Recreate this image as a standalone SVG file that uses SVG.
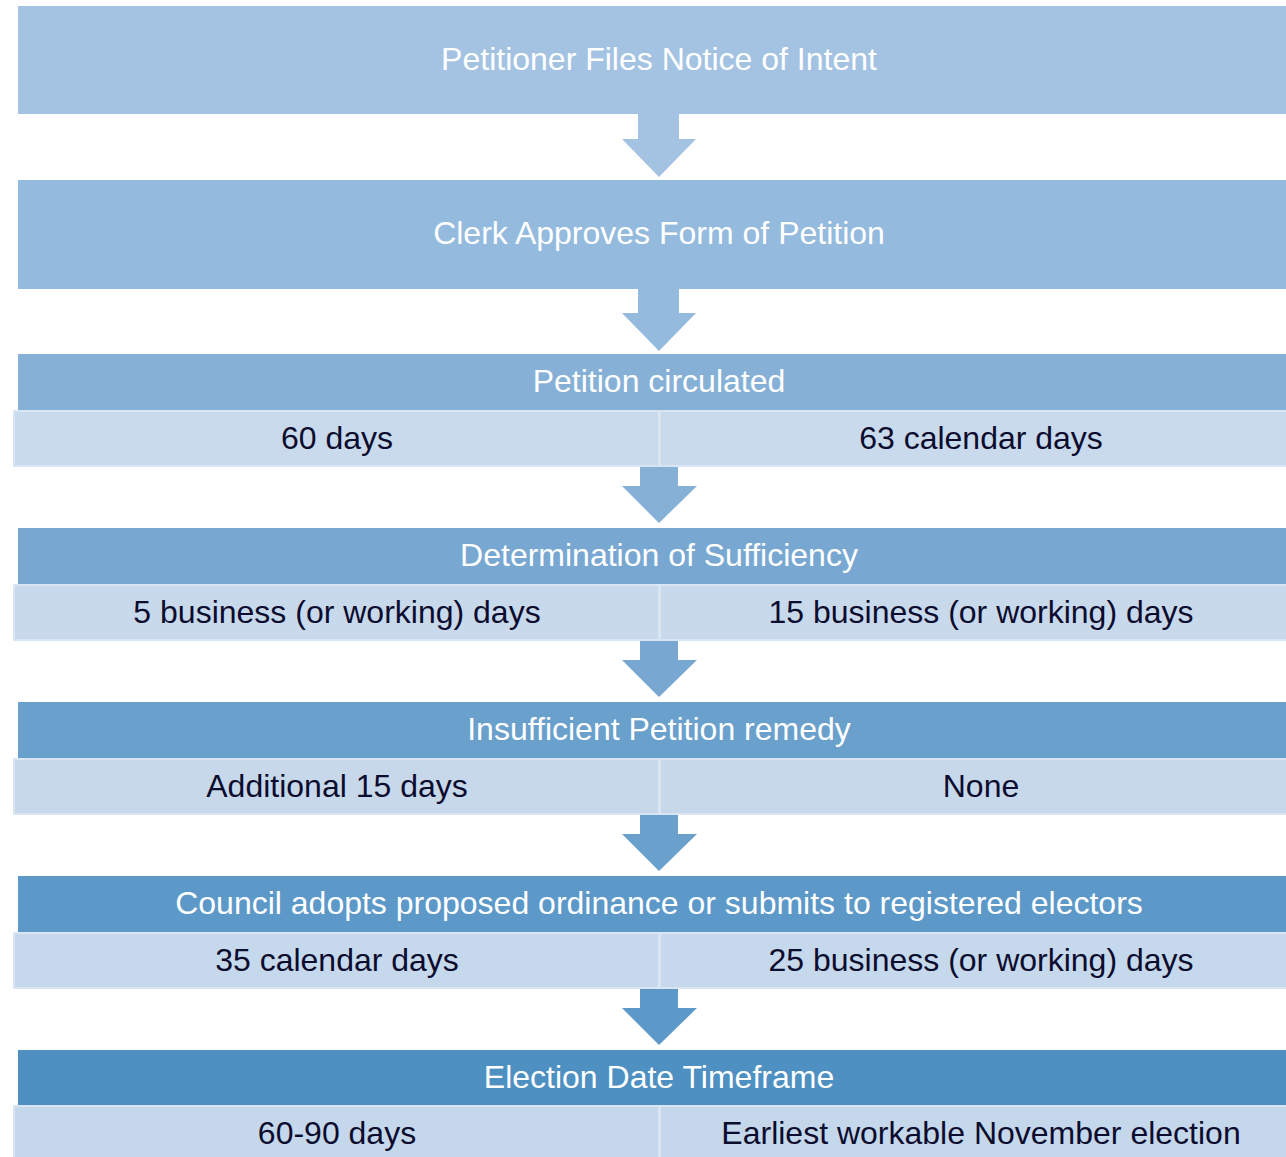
<svg xmlns="http://www.w3.org/2000/svg" width="1286" height="1157" viewBox="0 0 1286 1157">
<style>
.hd{font-family:"Liberation Sans",Arial,sans-serif;font-size:32px;fill:#ffffff;text-anchor:middle}
.ct{font-family:"Liberation Sans",Arial,sans-serif;font-size:32px;fill:#0c0c2e;text-anchor:middle}
.cell{stroke:#d9e5f2;stroke-width:2}
</style>
<rect width="1286" height="1157" fill="#ffffff"/>
<g id="connectors">
<path d="M638,112 H679 V139 H696 L659,177 L622,139 H638 Z" fill="#a4c3e3"/>
<path d="M638,287 H679 V313 H696 L659,351 L622,313 H638 Z" fill="#94badd"/>
<path d="M640,463 H678 V486 H697 L659,523 L622,486 H640 Z" fill="#86b0d6"/>
<path d="M640,637 H678 V660 H697 L659,697 L622,660 H640 Z" fill="#78a8d2"/>
<path d="M640,811 H678 V834 H697 L659,871 L622,834 H640 Z" fill="#6aa0cc"/>
<path d="M640,985 H678 V1008 H697 L659,1045 L622,1008 H640 Z" fill="#5c98c8"/>
</g>
<g id="n1">
<rect x="18" y="6" width="1290" height="108" fill="#a4c3e3"/>
<text class="hd" x="659" y="70">Petitioner Files Notice of Intent</text>
</g>
<g id="n2">
<rect x="18" y="180" width="1290" height="109" fill="#94badd"/>
<text class="hd" x="659" y="244">Clerk Approves Form of Petition</text>
</g>
<g id="n3">
<rect x="18" y="354" width="1290" height="57" fill="#86b0d6"/>
<text class="hd" x="659" y="392">Petition circulated</text>
<rect class="cell" x="14" y="411" width="645" height="55" fill="#c9daec"/>
<rect class="cell" x="660" y="411" width="640" height="55" fill="#c9daec"/>
<text class="ct" x="337" y="449">60 days</text>
<text class="ct" x="981" y="449">63 calendar days</text>
</g>
<g id="n4">
<rect x="18" y="528" width="1290" height="57" fill="#78a8d2"/>
<text class="hd" x="659" y="566">Determination of Sufficiency</text>
<rect class="cell" x="14" y="585" width="645" height="55" fill="#c8d9ec"/>
<rect class="cell" x="660" y="585" width="640" height="55" fill="#c8d9ec"/>
<text class="ct" x="337" y="623">5 business (or working) days</text>
<text class="ct" x="981" y="623">15 business (or working) days</text>
</g>
<g id="n5">
<rect x="18" y="702" width="1290" height="57" fill="#6aa0cc"/>
<text class="hd" x="659" y="740">Insufficient Petition remedy</text>
<rect class="cell" x="14" y="759" width="645" height="55" fill="#c7d8eb"/>
<rect class="cell" x="660" y="759" width="640" height="55" fill="#c7d8eb"/>
<text class="ct" x="337" y="797">Additional 15 days</text>
<text class="ct" x="981" y="797">None</text>
</g>
<g id="n6">
<rect x="18" y="876" width="1290" height="57" fill="#5c98c8"/>
<text class="hd" x="659" y="914">Council adopts proposed ordinance or submits to registered electors</text>
<rect class="cell" x="14" y="933" width="645" height="55" fill="#c6d8eb"/>
<rect class="cell" x="660" y="933" width="640" height="55" fill="#c6d8eb"/>
<text class="ct" x="337" y="971">35 calendar days</text>
<text class="ct" x="981" y="971">25 business (or working) days</text>
</g>
<g id="n7">
<rect x="18" y="1050" width="1290" height="56" fill="#4e90c1"/>
<text class="hd" x="659" y="1088">Election Date Timeframe</text>
<rect class="cell" x="14" y="1106" width="645" height="60" fill="#c5d7eb"/>
<rect class="cell" x="660" y="1106" width="640" height="60" fill="#c5d7eb"/>
<text class="ct" x="337" y="1144">60-90 days</text>
<text class="ct" x="981" y="1144">Earliest workable November election</text>
</g>
</svg>
